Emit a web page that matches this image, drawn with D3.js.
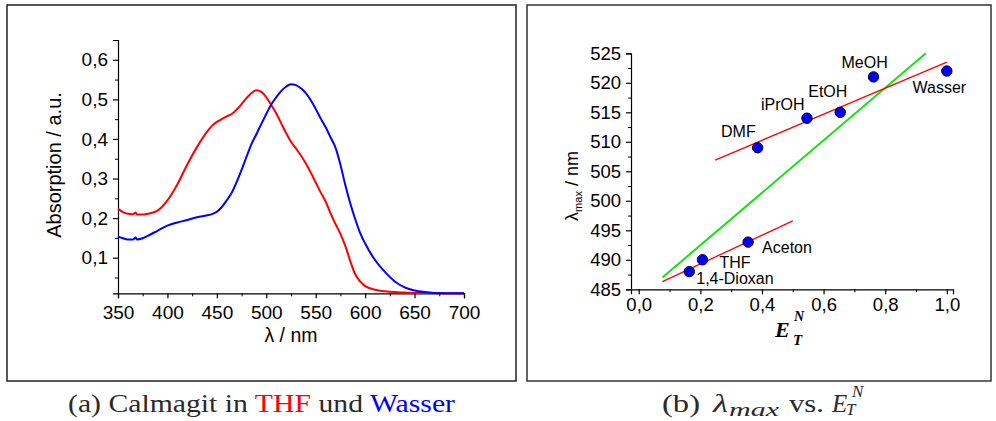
<!DOCTYPE html>
<html>
<head>
<meta charset="utf-8">
<script src="https://cdn.jsdelivr.net/npm/d3@7"></script>
<style>
  html, body { margin: 0; padding: 0; background: #fff; }
  svg { display: block; }
  .tick text { font-family: "Liberation Sans", Arial, sans-serif; fill: #000; }
</style>
</head>
<body>
<svg id="fig" width="996" height="421"></svg>
<script>
// ---- Panel (a): absorption spectra of Calmagit ----
const wavelengths = [350,355,360,365,368,369,375,380,390,400,410,420,430,440,445,450,455,460,465,470,475,480,485,490,495,500,505,510,515,520,525,530,535,540,545,550,555,560,565,570,575,580,585,590,595,600,610,620,630,640,650,660,680,700];
const absTHF = [0.224,0.215,0.211,0.210,0.214,0.209,0.209,0.211,0.219,0.245,0.285,0.335,0.380,0.418,0.433,0.443,0.450,0.457,0.463,0.474,0.488,0.503,0.516,0.523,0.519,0.505,0.486,0.465,0.440,0.415,0.393,0.376,0.358,0.338,0.315,0.290,0.265,0.242,0.212,0.185,0.160,0.129,0.091,0.058,0.040,0.028,0.019,0.015,0.013,0.012,0.011,0.011,0.010,0.010];
const absWasser = [0.154,0.149,0.146,0.146,0.151,0.146,0.149,0.155,0.168,0.181,0.189,0.195,0.202,0.207,0.210,0.216,0.228,0.245,0.264,0.291,0.322,0.355,0.387,0.412,0.438,0.463,0.487,0.505,0.521,0.532,0.538,0.536,0.528,0.516,0.498,0.476,0.452,0.430,0.404,0.378,0.335,0.283,0.237,0.197,0.162,0.136,0.094,0.064,0.040,0.025,0.017,0.013,0.010,0.010];
const specXTicks = [350,400,450,500,550,600,650,700];
const specYTicks = [0.1,0.2,0.3,0.4,0.5,0.6];

// ---- Panel (b): lambda_max against E_T^N ----
const solvents = ["1,4-Dioxan","THF","Aceton","DMF","iPrOH","EtOH","MeOH","Wasser"];
const etn = [0.164,0.207,0.355,0.386,0.546,0.654,0.762,1.0];
const lambdaMax = [488,490,493,509,514,515,521,522];
const fitUpperX = [0.248,1.0];
const fitUpperY = [506.9,523.5];
const fitLowerX = [0.077,0.5];
const fitLowerY = [486.3,496.6];
const fitAllX = [0.077,0.932];
const fitAllY = [487.0,525.0];
const etXTicks = [0,0.2,0.4,0.6,0.8,1.0];
const etYTicks = [485,490,495,500,505,510,515,520,525];

// label placement relative to each point
const labelOffsets = [[7,12.6],[17,8.3],[14,10.4],[-36.6,-10.4],[-46,-8.3],[-32,-15.4],[-32,-8.7],[-34.3,22.3]];

const svg = d3.select("#fig");
const sans = "'Liberation Sans', Arial, sans-serif";
const serif = "'Liberation Serif', 'Times New Roman', serif";
const comma = d => d3.format(".1f")(d).replace(".", ",");

// panel frames
svg.append("rect").attr("x", 7).attr("y", 5).attr("width", 509).attr("height", 376)
  .attr("fill", "none").attr("stroke", "#222").attr("stroke-width", 1.5);
svg.append("rect").attr("x", 527).attr("y", 5).attr("width", 464).attr("height", 376)
  .attr("fill", "none").attr("stroke", "#333").attr("stroke-width", 1.5);

function styleAxis(g, fs) {
  g.select(".domain").attr("stroke", "#000").attr("stroke-width", 1.2);
  g.selectAll(".tick line").attr("stroke", "#000").attr("stroke-width", 1.2);
  g.selectAll(".tick text").attr("font-size", fs);
}
function minorAxis(g, axis) {
  g.call(axis);
  g.select(".domain").remove();
  g.selectAll(".tick line").attr("stroke", "#000").attr("stroke-width", 1);
  g.selectAll(".tick text").remove();
}

// ===== Panel (a) =====
const xA = d3.scaleLinear().domain([350, 700]).range([118, 464]);
const yA = d3.scaleLinear().domain([0.01, 0.65]).range([293.3, 40]);

const gxA = svg.append("g").attr("transform", `translate(0,${yA(0.01)})`)
  .call(d3.axisBottom(xA).tickValues(specXTicks).tickSize(5).tickPadding(7).tickFormat(d3.format("d")));
styleAxis(gxA, 19);
minorAxis(svg.append("g").attr("transform", `translate(0,${yA(0.01)})`),
  d3.axisBottom(xA).tickValues(d3.range(375, 700, 50)).tickSize(3));

const gyA = svg.append("g").attr("transform", `translate(${xA(350)},0)`)
  .call(d3.axisLeft(yA).tickValues(specYTicks).tickSize(5).tickPadding(5).tickFormat(comma));
styleAxis(gyA, 19);
minorAxis(svg.append("g").attr("transform", `translate(${xA(350)},0)`),
  d3.axisLeft(yA).tickValues(d3.range(0.05, 0.66, 0.1)).tickSize(3));

const lineA = (vals) => d3.line()
  .x((d, i) => xA(wavelengths[i]))
  .y((d) => yA(d))
  .curve(d3.curveMonotoneX)(vals);

svg.append("path").attr("d", lineA(absTHF)).attr("fill", "none")
  .attr("stroke", "#ff0000").attr("stroke-width", 2);
svg.append("path").attr("d", lineA(absWasser)).attr("fill", "none")
  .attr("stroke", "#0000ff").attr("stroke-width", 2);

svg.append("text").attr("x", 291).attr("y", 341.5).attr("text-anchor", "middle")
  .attr("font-family", sans).attr("font-size", 19.5).text("λ / nm");
svg.append("text").attr("transform", "translate(61,165) rotate(-90)").attr("text-anchor", "middle")
  .attr("font-family", sans).attr("font-size", 20).text("Absorption / a.u.");

// ===== Panel (b) =====
const xB = d3.scaleLinear().domain([-0.025, 1.02]).range([631, 953]);
const yB = d3.scaleLinear().domain([485, 525]).range([289.3, 53.3]);

const gxB = svg.append("g").attr("transform", `translate(0,${yB(485)})`)
  .call(d3.axisBottom(xB).tickValues(etXTicks).tickSize(5).tickPadding(4).tickFormat(comma));
styleAxis(gxB, 18.5);
minorAxis(svg.append("g").attr("transform", `translate(0,${yB(485)})`),
  d3.axisBottom(xB).tickValues([0.1,0.3,0.5,0.7,0.9]).tickSize(3));

const gyB = svg.append("g").attr("transform", `translate(${xB(-0.025)},0)`)
  .call(d3.axisLeft(yB).tickValues(etYTicks).tickSize(5).tickPadding(5).tickFormat(d3.format("d")));
styleAxis(gyB, 18.5);
minorAxis(svg.append("g").attr("transform", `translate(${xB(-0.025)},0)`),
  d3.axisLeft(yB).tickValues(d3.range(487.5, 525, 5)).tickSize(3));

// regression lines
const seg = (xs, ys) => d3.line().x((d) => xB(d)).y((d, i) => yB(ys[i]))(xs);
svg.append("path").attr("d", seg(fitAllX, fitAllY)).attr("fill", "none")
  .attr("stroke", "#16e016").attr("stroke-width", 2);
svg.append("path").attr("d", seg(fitUpperX, fitUpperY)).attr("fill", "none")
  .attr("stroke", "#ff0000").attr("stroke-width", 1.3);
svg.append("path").attr("d", seg(fitLowerX, fitLowerY)).attr("fill", "none")
  .attr("stroke", "#ff0000").attr("stroke-width", 1.3);

// solvent points
svg.append("g").selectAll("circle").data(solvents).join("circle")
  .attr("cx", (d, i) => xB(etn[i])).attr("cy", (d, i) => yB(lambdaMax[i]))
  .attr("r", 5.2).attr("fill", "#0000ff").attr("stroke", "#000022").attr("stroke-width", 1);

svg.append("g").selectAll("text").data(solvents).join("text")
  .attr("x", (d, i) => xB(etn[i]) + labelOffsets[i][0])
  .attr("y", (d, i) => yB(lambdaMax[i]) + labelOffsets[i][1])
  .attr("font-family", sans).attr("font-size", 16).text(d => d);

// y title: lambda_max / nm
const yt = svg.append("text").attr("transform", "translate(578,186) rotate(-90)")
  .attr("text-anchor", "middle").attr("font-family", sans).attr("font-size", 18);
yt.append("tspan").text("λ");
yt.append("tspan").attr("font-size", 11).attr("dy", 4).text("max");
yt.append("tspan").attr("dy", -4).text(" / nm");

// x title: E_T^N
svg.append("text").attr("x", 775).attr("y", 336.7).attr("font-family", serif)
  .attr("font-size", 22).attr("font-weight", "bold").attr("font-style", "italic").text("E");
svg.append("text").attr("x", 794).attr("y", 321).attr("font-family", serif)
  .attr("font-size", 14).attr("font-weight", "bold").attr("font-style", "italic").text("N");
svg.append("text").attr("x", 793).attr("y", 345).attr("font-family", serif)
  .attr("font-size", 15).attr("font-weight", "bold").attr("font-style", "italic").text("T");

// ===== Captions =====
const capA = svg.append("text").attr("x", 68).attr("y", 412).attr("font-family", serif)
  .attr("font-size", 25).attr("fill", "#2a2a2a")
  .attr("textLength", 387).attr("lengthAdjust", "spacingAndGlyphs");
capA.append("tspan").text("(a) Calmagit in ");
capA.append("tspan").attr("fill", "#ff0000").text("THF");
capA.append("tspan").text(" und ");
capA.append("tspan").attr("fill", "#0000ff").text("Wasser");

const capB = svg.append("g").attr("font-family", serif).attr("fill", "#2a2a2a");
capB.append("text").attr("x", 662).attr("y", 412).attr("font-size", 25)
  .attr("textLength", 38).attr("lengthAdjust", "spacingAndGlyphs").text("(b)");
capB.append("text").attr("x", 713).attr("y", 412).attr("font-size", 25)
  .attr("font-style", "italic").attr("textLength", 15).attr("lengthAdjust", "spacingAndGlyphs").text("λ");
capB.append("text").attr("x", 729).attr("y", 415.5).attr("font-size", 18)
  .attr("font-style", "italic").attr("textLength", 50).attr("lengthAdjust", "spacingAndGlyphs").text("max");
capB.append("text").attr("x", 789).attr("y", 412).attr("font-size", 25)
  .attr("textLength", 35).attr("lengthAdjust", "spacingAndGlyphs").text("vs.");
capB.append("text").attr("x", 832).attr("y", 412).attr("font-size", 25)
  .attr("font-style", "italic").text("E");
capB.append("text").attr("x", 852).attr("y", 396.5).attr("font-size", 17)
  .attr("font-style", "italic").text("N");
capB.append("text").attr("x", 846).attr("y", 415).attr("font-size", 17)
  .attr("font-style", "italic").text("T");
</script>
</body>
</html>
